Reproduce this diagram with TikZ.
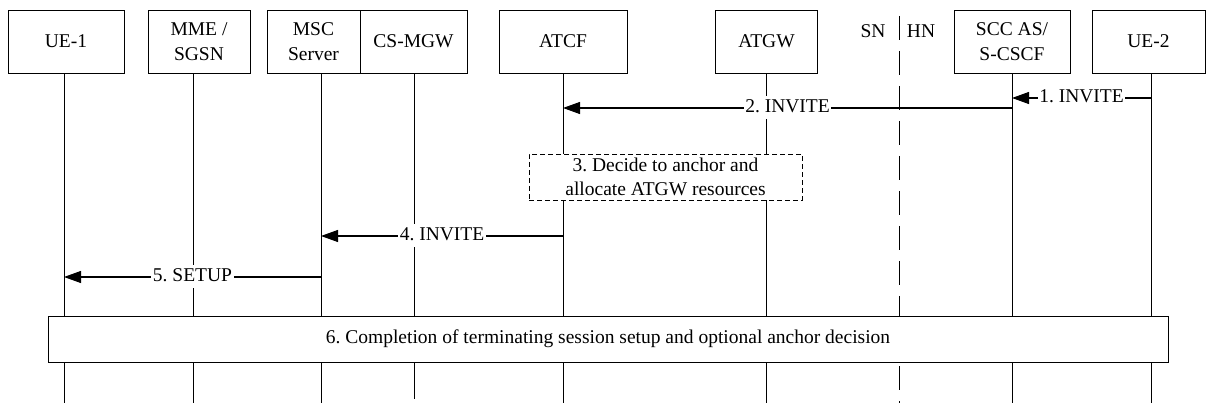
\documentclass[tikz,border=0pt]{standalone}
\usepackage{fontspec}
\setmainfont{Liberation Serif}
\newfontfamily\tnrfont{Liberation Serif}
\usetikzlibrary{arrows.meta}
\frenchspacing
\begin{document}
\begin{tikzpicture}[x=1pt,y=-1pt,
  every node/.style={font=\tnrfont\fontsize{19.5}{24.5}\selectfont\frenchspacing},
  entity/.style={draw, line width=0.9pt, minimum height=63pt, align=center, inner sep=0pt, fill=white},
  life/.style={line width=1pt},
  msg/.style={line width=1.1pt, -{Triangle[length=17pt,width=12pt]}},
  lbl/.style={fill=white, inner xsep=1.5pt, inner ysep=2pt, text height=14pt, text depth=5pt},
  border/.style={dash pattern=on 24pt off 11pt, line width=1pt},
  procbox/.style={draw, line width=0.9pt, fill=white, align=center, inner sep=0pt},
]
\useasboundingbox (0,0) rectangle (1207,403);

% entity boxes
\node[entity, minimum width=116pt] (ue1) at (66,41.5) {UE-1};
\node[entity, minimum width=102pt] (mme) at (199,41.5) {MME /\\SGSN};
\node[entity, minimum width=93pt] (msc) at (313.5,41.5) {MSC\\Server};
\node[entity, minimum width=107pt] (mgw) at (413.5,41.5) {CS-MGW};
\node[entity, minimum width=128pt] (atcf) at (563,41.5) {ATCF};
\node[entity, minimum width=101.5pt] (atgw) at (766.5,41.5) {ATGW};
\node[entity, minimum width=116pt] (scc) at (1012,41.5) {SCC AS/\\S-CSCF};
\node[entity, minimum width=113pt] (ue2) at (1148.5,41.5) {UE-2};
\node[anchor=base] (sn) at (873,38) {SN};
\node[anchor=base] (hn) at (921,38) {HN};

% lifeline bottoms
\coordinate (ue1l) at (64,403);
\coordinate (mmel) at (193,403);
\coordinate (mscl) at (321,403);
\coordinate (mgwl) at (414,399);
\coordinate (atcfl) at (563,403);
\coordinate (atgwl) at (766,403);
\coordinate (sccl) at (1012,403);
\coordinate (ue2l) at (1151,403);
\coordinate (bordtop) at (899,16);
\coordinate (bordbot) at (899,403);

% lifelines
\draw[life] (ue1.south -| ue1l) -- (ue1l);
\draw[life] (mme.south -| mmel) -- (mmel);
\draw[life] (msc.south -| mscl) -- (mscl);
\draw[life] (mgw.south -| mgwl) -- (mgwl);
\draw[life] (atcf.south -| atcfl) -- (atcfl);
\draw[life] (atgw.south -| atgwl) -- (atgwl);
\draw[life] (scc.south -| sccl) -- (sccl);
\draw[life] (ue2.south -| ue2l) -- (ue2l);
\draw[border] (bordtop) -- (bordbot);

% process boxes
\node[procbox, dash pattern=on 5pt off 3pt, minimum width=273pt, minimum height=46pt] (d3) at (665.5,177) {3. Decide to anchor and\\allocate ATGW resources};
\node[procbox, minimum width=1120pt, minimum height=46pt] (d6) at (608,339) {6. Completion of terminating session setup and optional anchor decision};

% message rows
\coordinate (r1) at (0,98);
\coordinate (r2) at (0,108);
\coordinate (r4) at (0,236);
\coordinate (r5) at (0,277);

\draw[msg] (ue2l |- r1) -- node[lbl] {1. INVITE} (sccl |- r1);
\draw[msg] (sccl |- r2) -- node[lbl] {2. INVITE} (atcfl |- r2);
\draw[msg] (atcfl |- r4) -- node[lbl] {4. INVITE} (mscl |- r4);
\draw[msg] (mscl |- r5) -- node[lbl] {5. SETUP} (ue1l |- r5);
\end{tikzpicture}
\end{document}
